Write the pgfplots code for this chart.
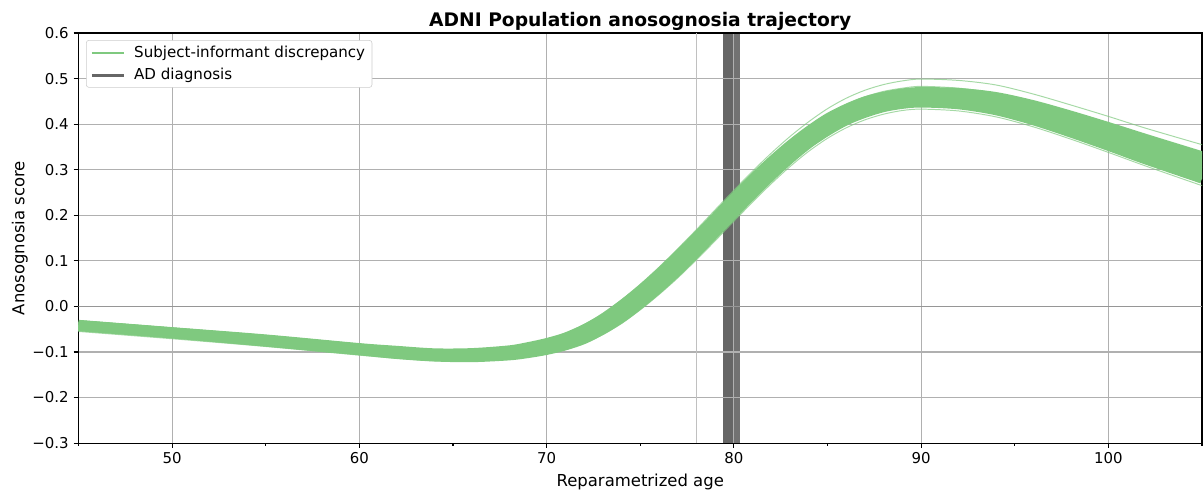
\documentclass[border=0pt]{standalone}
\usepackage{fontspec}
\setmainfont{DejaVu Sans}
\usepackage{pgfplots}
\usepackage{pgfplotstable}
\pgfplotsset{compat=1.18}

\definecolor{trajgreen}{RGB}{127,201,127}
\definecolor{adgray}{RGB}{102,102,102}
\definecolor{adgraylt}{RGB}{114,114,114}
\definecolor{gridgray}{RGB}{176,176,176}
\definecolor{zerogray}{RGB}{150,150,150}
\definecolor{legframe}{RGB}{204,204,204}

% population trajectories: centre, core edges, outlying subjects
\pgfplotstableread{
x    c       up      u2      l2      lo      o1      o2      o3      o4
45  -0.042  -0.041  -0.0415 -0.0425 -0.043  -0.038  -0.055  -0.040  -0.050
50  -0.058  -0.057  -0.0575 -0.0585 -0.059  -0.054  -0.071  -0.056  -0.066
55  -0.075  -0.073  -0.074  -0.076  -0.077  -0.071  -0.088  -0.073  -0.083
60  -0.094  -0.092  -0.093  -0.095  -0.096  -0.089  -0.107  -0.091  -0.102
62  -0.101  -0.098  -0.0995 -0.1025 -0.104  -0.095  -0.114  -0.097  -0.109
64  -0.1065 -0.1035 -0.105  -0.108  -0.1095 -0.0995 -0.1195 -0.102  -0.114
66  -0.107  -0.103  -0.105  -0.109  -0.111  -0.099  -0.120  -0.102  -0.115
68  -0.102  -0.097  -0.0995 -0.1045 -0.107  -0.091  -0.116  -0.095  -0.110
69  -0.096  -0.090  -0.093  -0.099  -0.102  -0.083  -0.111  -0.088  -0.105
70  -0.088  -0.081  -0.0845 -0.0915 -0.095  -0.073  -0.104  -0.079  -0.098
71  -0.077  -0.069  -0.073  -0.081  -0.085  -0.059  -0.095  -0.066  -0.088
72  -0.061  -0.051  -0.056  -0.066  -0.071  -0.040  -0.081  -0.048  -0.073
73  -0.039  -0.028  -0.0335 -0.0445 -0.050  -0.015  -0.062  -0.025  -0.053
74  -0.0115  0.0015 -0.005  -0.018  -0.0245  0.0145 -0.0375  0.004  -0.027
75   0.0205  0.0345  0.0275  0.0135  0.0065  0.0485 -0.0075  0.037   0.004
76   0.056   0.071   0.0635  0.0485  0.041   0.086   0.026   0.074   0.038
77   0.0945  0.1105  0.1025  0.0865  0.0785  0.1265  0.0625  0.114   0.075
78   0.1355  0.1515  0.1435  0.1275  0.1195  0.1685  0.1025  0.155   0.116
79   0.178   0.194   0.186   0.170   0.162   0.212   0.144   0.198   0.158
80   0.221   0.237   0.229   0.213   0.205   0.255   0.187   0.241   0.201
81   0.263   0.279   0.271   0.255   0.247   0.297   0.229   0.283   0.243
82   0.3025  0.3175  0.310   0.295   0.2875  0.3365  0.2695  0.323   0.283
83   0.339   0.353   0.346   0.332   0.325   0.373   0.307   0.359   0.320
84   0.3715  0.3845  0.378   0.365   0.3585  0.4055  0.3405  0.392   0.353
85   0.399   0.412   0.4055  0.3925  0.386   0.434   0.369   0.420   0.381
86   0.421   0.433   0.427   0.415   0.409   0.457   0.392   0.443   0.404
87   0.4375  0.4495  0.4435  0.4315  0.4255  0.4745  0.4095  0.460   0.421
88   0.449   0.460   0.4545  0.4435  0.438   0.487   0.422   0.472   0.433
89   0.456   0.467   0.4615  0.4505  0.445   0.495   0.430   0.479   0.440
90   0.459   0.470   0.4645  0.4535  0.448   0.499   0.433   0.483   0.443
92   0.456   0.468   0.462   0.450   0.444   0.496   0.429   0.479   0.440
94   0.445   0.459   0.452   0.438   0.431   0.486   0.416   0.468   0.428
96   0.425   0.441   0.433   0.417   0.409   0.466   0.394   0.449   0.406
98   0.400   0.418   0.409   0.391   0.382   0.442   0.367   0.425   0.380
100  0.373   0.393   0.383   0.363   0.353   0.417   0.338   0.399   0.352
102  0.345   0.367   0.356   0.334   0.323   0.391   0.308   0.373   0.323
105  0.305   0.329   0.317   0.293   0.281   0.355   0.265   0.335   0.281
}\traj

\begin{document}
\begin{tikzpicture}
\begin{axis}[
    set layers=standard,
    scale only axis,
    width=808.9bp,
    height=295.2bp,
    xmin=45, xmax=105,
    ymin=-0.3, ymax=0.6,
    xtick={50,60,70,80,90,100},
    xticklabels={50,60,70,80,90,100},
    minor xtick={45,55,65,75,85,95,105},
    ytick={-0.3,-0.2,-0.1,0,0.1,0.2,0.3,0.4,0.5,0.6},
    yticklabels={−0.3,−0.2,−0.1,0.0,0.1,0.2,0.3,0.4,0.5,0.6},
    tick align=outside,
    tick pos=left,
    major tick length=3.5bp,
    minor tick length=2bp,
    every tick/.style={black, line width=0.8bp},
    axis line style={line width=0.8bp},
    grid=major,
    major grid style={gridgray, line width=0.8bp},
    tick label style={font=\fontsize{10.8}{12}\selectfont},
    label style={font=\fontsize{11.9}{13}\selectfont},
    xlabel={Reparametrized age},
    ylabel={Anosognosia score},
    ylabel style={at={(axis description cs:-0.0521,0.5)}, anchor=center},
    title={ADNI Population anosognosia trajectory},
    every axis title shift=0pt,
    title style={font=\fontsize{13.5}{15}\selectfont\bfseries,
        at={(axis description cs:0.5,1)}, anchor=base, yshift=5bp},
    legend style={at={(axis description cs:0.0067,0.983)}, anchor=north west,
        draw=legframe, fill=white, rounded corners=2bp,
        font=\fontsize{10.9}{13}\selectfont, row sep=2.5bp},
    legend cell align=left,
    legend image code/.code={\draw[#1] (0bp,0bp) -- (23bp,0bp); \path (27.5bp,0bp);},
]
\coordinate (bl) at (rel axis cs:0,0);
\coordinate (tr) at (rel axis cs:1,1);

% AD diagnosis band (below the grid)
\addplot[on layer=axis background, adgray, line width=8.2bp, forget plot] coordinates {(79.7,-0.3) (79.7,0.6)};
\addplot[on layer=axis background, adgraylt, line width=4.7bp, forget plot] coordinates {(80.17,-0.3) (80.17,0.6)};

% reference lines
\addplot[zerogray, line width=1bp, forget plot] coordinates {(45,0) (105,0)};
\addplot[gridgray!80!white, line width=0.8bp, forget plot] coordinates {(78,-0.3) (78,0.6)};

% outlying trajectories
\addplot[trajgreen, opacity=0.7, line width=0.7bp, smooth, forget plot] table[x=x, y=o1] {\traj};
\addplot[trajgreen, opacity=0.7, line width=0.7bp, smooth, forget plot] table[x=x, y=o2] {\traj};
\addplot[trajgreen, opacity=0.7, line width=0.7bp, smooth, forget plot] table[x=x, y=o3] {\traj};
\addplot[trajgreen, opacity=0.7, line width=0.7bp, smooth, forget plot] table[x=x, y=o4] {\traj};

% dense core of the trajectories
\addplot[trajgreen, line width=7.5bp, smooth, forget plot] table[x=x, y=up] {\traj};
\addplot[trajgreen, line width=7.5bp, smooth, forget plot] table[x=x, y=lo] {\traj};
\addplot[trajgreen, line width=7.5bp, smooth, forget plot] table[x=x, y=u2] {\traj};
\addplot[trajgreen, line width=7.5bp, smooth, forget plot] table[x=x, y=l2] {\traj};
\addplot[trajgreen, line width=7.5bp, smooth, forget plot] table[x=x, y=c] {\traj};

\addlegendimage{trajgreen, line width=1.5bp}
\addlegendentry{Subject-informant discrepancy}
\addlegendimage{adgray, line width=2bp}
\addlegendentry{AD diagnosis}
\end{axis}
\pgfresetboundingbox
\path[use as bounding box] ([xshift=-56.5bp,yshift=-36bp]bl) rectangle ([xshift=0.7bp,yshift=23.8bp]tr);
\end{tikzpicture}
\end{document}
